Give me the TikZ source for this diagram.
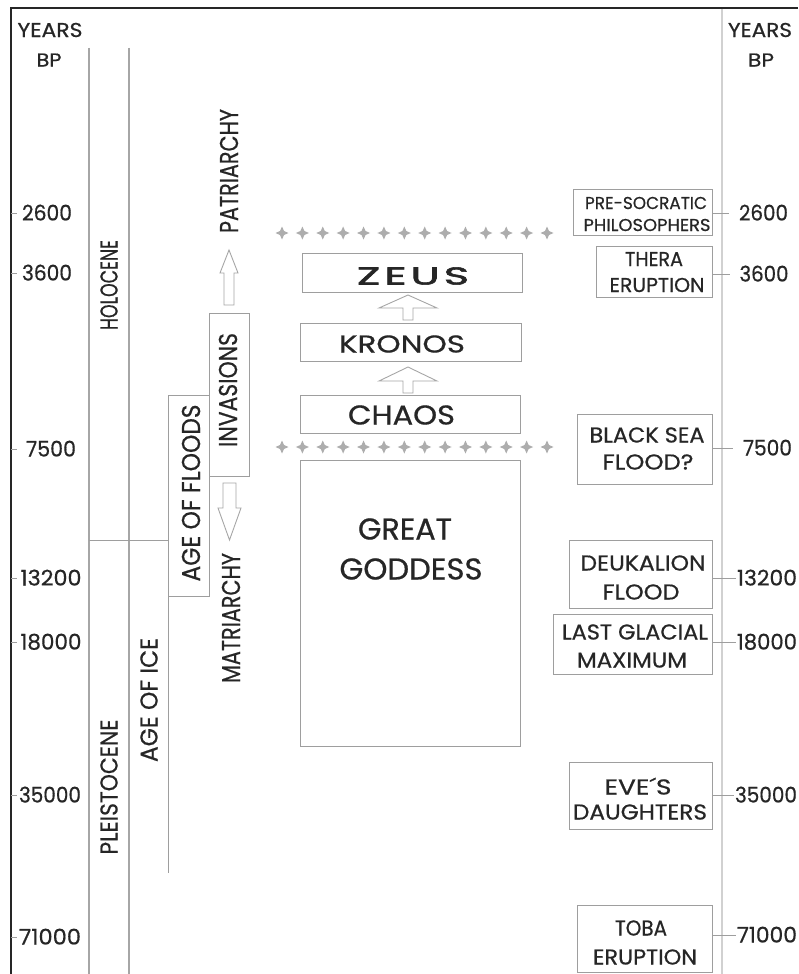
\documentclass[tikz,border=0pt]{standalone}
\usepackage{fontspec}
\setmainfont{Poppins}[FakeBold=0.6]
\newfontfamily\zeusfont{Poppins}[FakeBold=2.2,LetterSpace=10]
\usepackage{graphicx}
\newcommand{\ft}[3]{\resizebox{#1pt}{#2pt}{\vphantom{E}\smash{#3}}}
\begin{document}
\begin{tikzpicture}[x=1pt,y=-1pt,
  frame/.style={line width=1.3pt,black!85},
  axis/.style={line width=1.1pt,black!35},
  raxis/.style={line width=2.6pt,black!18},
  thin/.style={line width=0.9pt,black!38},
  box/.style={draw=black!38,line width=0.9pt,inner sep=0pt,outer sep=0pt},
  txt/.style={inner sep=0pt,outer sep=0pt,text=black!85},
  harrow/.style={draw=black!35,line width=0.9pt,fill=white,line join=miter},
  plusmark/.style={fill=black!32,draw=none}]
\useasboundingbox (0,0) rectangle (798,974);
\fill[white] (0,0) rectangle (798,974);
% frame
\draw[frame] (11,974) -- (11,8) -- (798,8);
% axes
\draw[axis] (89,48) -- (89,974);
\draw[axis] (129,48) -- (129,974);
\draw[raxis] (722,9) -- (722,974);
% header labels
\node[txt] (yl) at (50,30) {\ft{65}{14}{YEARS}};
\node[txt] (bpl) at (49,60) {\ft{25}{13}{BP}};
\node[txt] (yr) at (760,30) {\ft{64}{14}{YEARS}};
\node[txt] (bpr) at (761,60) {\ft{26}{13}{BP}};
% left numbers and ticks
\foreach \nm/\yy/\cx/\ww/\lab in {a/213/47/50/2600, b/273/47/50/3600, c/449/51/50/7500, d/578/51/61/13200, e/642/51/61/18000, f/795/50/62/35000, g/937/50/62/71000}{
  \node[txt] (l\nm) at (\cx,\yy) {\ft{\ww}{15}{\lab}};
  \coordinate (tl\nm) at (11,\yy);
  \draw[thin] (tl\nm) -- ++(6,0);
}
% epoch lines
\node[box,minimum width=41,minimum height=201] (floods) at (188.5,495.5) {};
\node[box,minimum width=40,minimum height=163] (inv) at (229,394.5) {};
\coordinate (hb) at (89,540);
\draw[thin] (hb) -- (hb -| floods.west);
\coordinate (iceend) at (168,873);
\draw[thin] (floods.south west) -- (iceend);
% rotated labels
\node[txt,rotate=90] (holo) at (109,285) {\ft{90}{17}{HOLOCENE}};
\node[txt,rotate=90] (pleis) at (109,787) {\ft{135}{17}{PLEISTOCENE}};
\node[txt,rotate=90] (ice) at (149,700) {\ft{124}{17}{AGE OF ICE}};
\node[txt,rotate=90] (floodt) at (191,493) {\ft{177}{18}{AGE OF FLOODS}};
\node[txt,rotate=90] (invt) at (228,390) {\ft{114}{18}{INVASIONS}};
\node[txt,rotate=90] (patr) at (229,171) {\ft{124}{18}{PATRIARCHY}};
\node[txt,rotate=90] (matr) at (231,618) {\ft{130}{18}{MATRIARCHY}};
% hollow arrows beside invasions
\draw[harrow] (229,250) -- (238,273) -- (234,273) -- (234,305) -- (224,305) -- (224,273) -- (220,273) -- cycle;
\draw[harrow] (223,483) -- (236,483) -- (236,508) -- (241,508) -- (229.5,540) -- (218,508) -- (223,508) -- cycle;
% center boxes
\node[box,minimum width=220,minimum height=39] (zeus) at (412,272.5) {};
\node[box,minimum width=221,minimum height=38] (kronos) at (410.5,342) {};
\node[box,minimum width=220,minimum height=38] (chaos) at (410,414) {};
\node[box,minimum width=220,minimum height=286] (goddess) at (410,603) {};
\node[txt] (zeust) at (413,276) {\ft{112}{17}{\zeusfont ZEUS}};
\node[txt] (kronost) at (402,344) {\ft{126}{17}{KRONOS}};
\node[txt] (chaost) at (401.5,415) {\ft{107}{19}{CHAOS}};
\node[txt] (greatt) at (405,529) {\ft{94}{21}{GREAT}};
\node[txt] (goddesst) at (411,569) {\ft{143}{21}{GODDESS}};
\draw[harrow] (408,295) -- (437,308) -- (413,308) -- (413,320) -- (403,320) -- (403,308) -- (379,308) -- cycle;
\draw[harrow] (408,367) -- (437,381) -- (413,381) -- (413,393) -- (403,393) -- (403,381) -- (379,381) -- cycle;
% plus rows
\foreach \k in {0,...,13}{
  \pgfmathsetmacro{\px}{282+\k*20.385}
  \foreach \py in {233,447}{
    \fill[plusmark] (\px-6.5,\py) -- (\px-2,\py-2) -- (\px,\py-6.5) -- (\px+2,\py-2)
      -- (\px+6.5,\py) -- (\px+2,\py+2) -- (\px,\py+6.5) -- (\px-2,\py+2) -- cycle;
  }
}
% right boxes
\node[box,minimum width=139,minimum height=46] (pre) at (642.5,212) {};
\node[box,minimum width=116,minimum height=51] (thera) at (654,271.5) {};
\node[box,minimum width=135,minimum height=70] (black) at (644.5,449) {};
\node[box,minimum width=143,minimum height=68] (deuk) at (640.5,574) {};
\node[box,minimum width=159,minimum height=60] (lgm) at (632.5,644) {};
\node[box,minimum width=143,minimum height=67] (eve) at (640.5,795.5) {};
\node[box,minimum width=135,minimum height=67] (toba) at (644.5,938.5) {};
\node[txt] (pre1) at (646,203) {\ft{122}{12}{PRE-SOCRATIC}};
\node[txt] (pre2) at (647,225) {\ft{127}{12}{PHILOSOPHERS}};
\node[txt] (thera1) at (654,259) {\ft{58}{14}{THERA}};
\node[txt] (thera2) at (657,285) {\ft{95}{14}{ERUPTION}};
\node[txt] (black1) at (647,435) {\ft{115}{15}{BLACK SEA}};
\node[txt] (black2) at (648,462) {\ft{91}{15}{FLOOD?}};
\node[txt] (deuk1) at (643,563) {\ft{125}{15}{DEUKALION}};
\node[txt] (deuk2) at (641,592) {\ft{77}{15}{FLOOD}};
\node[txt] (lgm1) at (635,632) {\ft{146}{15}{LAST GLACIAL}};
\node[txt] (lgm2) at (632,660) {\ft{110}{15}{MAXIMUM}};
\node[txt] (eve1) at (638,787) {\ft{67}{15}{EVE´S}};
\node[txt] (eve2) at (640,812) {\ft{134}{15}{DAUGHTERS}};
\node[txt] (toba1) at (641,928) {\ft{52}{15}{TOBA}};
\node[txt] (toba2) at (645,957) {\ft{104}{15}{ERUPTION}};
% right numbers and ticks
\node[txt] (ra) at (763.5,213) {\ft{49}{15}{2600}};
\node[txt] (rb) at (764,274) {\ft{49}{15}{3600}};
\node[txt] (rc) at (767.5,448) {\ft{49}{15}{7500}};
\node[txt] (rd) at (767,578) {\ft{60}{15}{13200}};
\node[txt] (re) at (767,642) {\ft{60}{15}{18000}};
\node[txt] (rf) at (766,795) {\ft{62}{15}{35000}};
\node[txt] (rg) at (767,935) {\ft{60}{15}{71000}};
\draw[thin] (pre.east |- ra) -- ([xshift=-10pt]ra.west);
\draw[thin] (thera.east |- rb) -- ([xshift=-10pt]rb.west);
\draw[thin] (black.east |- rc) -- ([xshift=-10pt]rc.west);
\draw[thin] (deuk.east |- rd) -- ([xshift=-1pt]rd.west);
\draw[thin] (lgm.east |- re) -- ([xshift=-1pt]re.west);
\draw[thin] (eve.east |- rf) -- ([xshift=-1pt]rf.west);
\draw[thin] (toba.east |- rg) -- ([xshift=-1pt]rg.west);
\end{tikzpicture}
\end{document}
